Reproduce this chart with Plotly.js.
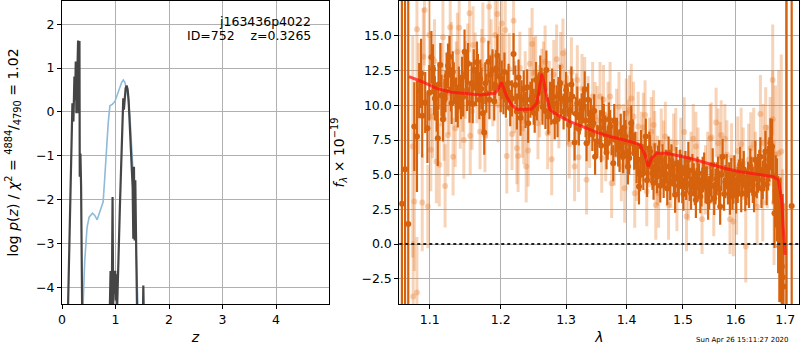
<!DOCTYPE html>
<html>
<head>
<meta charset="utf-8">
<script src="https://cdn.plot.ly/plotly-3.0.1.min.js"></script>
<style>html,body{margin:0;padding:0;background:#fff;}#chart{width:800px;height:350px;}</style>
</head>
<body>
<div id="chart"></div>
<script>
// ---- left panel: redshift probability ----
const pzFitZ = [0.11,0.1945,0.2132,0.232,0.245,0.257,0.2695,0.282,0.3008,0.3133,0.3265,0.332,0.3445,0.357,0.376,0.38,0.6,0.85,0.895,0.9075,0.92,0.932,0.945,0.957,0.97,0.982,0.995,1.007,1.02,1.032,1.082,1.1326,1.145,1.157,1.17,1.189,1.207,1.226,1.245,1.27,1.295,1.32,1.333,1.345,1.358,1.37,1.383,1.395,1.408,1.508,1.52,1.533];
const pzFitLog = [-4.6,0.2,-0.22,0.81,0.27,1.15,-0.03,1.04,1.63,-0.03,1.62,-1.48,-0.95,-1.71,-4.4,-5,-12,-5,-4.4,-3.63,-4.4,-4.08,-1.94,-4.4,-3.62,-4.15,-3.62,-4.3,-3.7,-4.4,-2.17,0.05,0.31,0.05,0.39,0.54,0.6,0.52,0.27,-0.41,-1.1,-1.71,-2.89,-1.25,-2.93,-1.56,-2.78,-4.4,-5,-5,-3.96,-5];
const pzPriorZ = [0.37,0.394,0.425,0.469,0.507,0.569,0.613,0.657,0.694,0.738,0.769,0.8,0.832,0.863,0.895,0.945,0.989,1.032,1.07,1.114,1.145,1.176,1.207,1.239,1.27,1.301,1.333,1.364,1.395,1.414,1.427,1.44];
const pzPriorLog = [-5.2,-4.38,-3.39,-2.63,-2.4,-2.31,-2.36,-2.46,-2.32,-2.17,-2.05,-1.48,-0.79,-0.26,0.14,0.18,0.24,0.39,0.54,0.67,0.73,0.67,0.52,0.27,-0.11,-0.72,-1.48,-2.4,-3.39,-4.08,-4.46,-5.2];
const zTicks = [0,1,2,3,4];
const logTicks = [-4,-3,-2,-1,0,1,2];

// ---- right panel: spectrum ----
const darkWave = [1.0632,1.0673,1.0715,1.0795,1.083,1.086,1.090,1.094,1.097,1.1023,1.106,1.107,1.111,1.112,1.116,1.118,1.120,1.123,1.125,1.127,1.129,1.130,1.133,1.136,1.140,1.143,1.146,1.148,1.150,1.153,1.155,1.158,1.161,1.164,1.167,1.169,1.172,1.174,1.176,1.179,1.182,1.185,1.188,1.192,1.195,1.198,
1.2015,1.204,1.2076,1.2116,1.214,1.219,1.2217,1.224,1.228,1.231,1.2343,1.237,1.241,1.2444,1.247,1.251,1.253,1.256,1.2596,1.263,1.266,1.269,1.272,1.2747,1.278,1.282,1.285,1.288,1.292,1.296,1.300,1.3025,1.3066,1.310,1.3136,1.318,1.322,1.325,1.330,1.333,1.337,1.340,1.344,1.347,
1.3552,1.359,1.3635,1.368,1.372,1.3773,1.381,1.3856,1.390,1.394,1.398,1.4024,1.406,1.408,1.413,1.4173,1.4214,1.425,1.429,1.4333,1.438,1.441,1.445,1.449,1.453,1.457,1.4607,1.465,1.469,1.4738,1.4768,1.481,1.4857,1.4905,1.4946,1.4988,1.503,1.506,1.510,1.515,1.520,1.524,1.527,
1.5323,1.5367,1.542,1.547,1.5513,1.5557,1.561,1.566,1.570,1.5747,1.580,1.585,1.589,1.5937,1.5975,1.604,1.6088,1.6135,1.619,1.6243,1.629,1.634,1.639,1.6446,1.6493,1.654,1.6595,1.665,1.6696,1.673,1.678,1.683,1.688,1.693,1.6966,1.703,1.7137,
1.0885,1.0995,1.1045,1.1095,1.1145,1.1215,1.1315,1.1385,1.1445,1.1515,1.1595,1.1655,1.1705,1.1775,1.1835,1.1905,1.1935,1.2000,1.2055,1.2095,1.2165,1.2265,1.2295,1.2395,1.2495,1.2545,1.2615,1.2675,1.2765,1.2805,1.2865,1.2905,1.2985,1.3045,1.3085,1.3155,1.3205,1.3275,1.3315,1.3355,1.3425,1.3455,1.3505,
1.3570,1.3615,1.3660,1.3700,1.3745,1.3790,1.3835,1.3880,1.3920,1.3960,1.4000,1.4045,1.4105,1.4150,1.4195,1.4235,1.4270,1.4315,1.4355,1.4395,1.4430,1.4470,1.4510,1.4550,1.4590,1.4630,1.4670,1.4715,1.4750,1.4790,1.4835,1.4880,1.4925,1.4965,1.5010,1.5045,1.5080,1.5125,1.5175,1.5220,1.5255,
1.5300,1.5345,1.5395,1.5445,1.5490,1.5535,1.5585,1.5635,1.5680,1.5725,1.5775,1.5825,1.5875,1.5915,1.5955,1.6010,1.6065,1.6110,1.6160,1.6215,1.6265,1.6315,1.6365,1.6420,1.6470,1.6515,1.6570,1.6620,1.6675,1.6755,1.6805,1.6855,1.6905,1.6950];
const darkFlux = [2.9,5.4,1.45,8.47,7.75,11.06,9.24,10.2,8.35,13.46,11.1,10.5,7.63,11.5,10.7,9.0,10.4,12.1,12.85,13.5,11.15,10.15,11.6,10.4,11.3,10.5,10.6,13.87,12.3,13.0,10.15,11.6,12.55,11.35,12.2,10.4,11.2,9.43,8.04,10.87,13.15,12.2,12.55,11.47,13.6,12.07,
11.83,10.75,10.4,11.6,9.8,13.7,11.47,9.55,10.63,10.4,11.2,9.67,8.7,10.4,10.63,9.43,11.83,10.87,12.2,9.9,11.1,12.55,9.19,10.4,11.35,8.83,10.15,10.75,10.5,9.55,11.1,10.4,9.67,10.63,7.32,10.15,9.19,9.67,11.16,7.27,8.47,9.3,8.7,6.3,
8.35,9.43,7.99,7.27,8.47,5.83,7.5,6.79,8.1,6.3,7.75,5.59,7.27,8.7,6.55,5.59,4.15,7.03,5.1,7.75,5.83,6.67,5.1,6.07,4.87,6.3,5.35,4.52,5.59,6.55,4.38,5.35,3.55,4.87,5.59,4.15,5.1,4.38,6.07,3.67,4.63,3.18,5.1,
3.42,5.1,4.15,3.06,4.63,5.71,4.15,5.1,2.7,6.3,4.5,4.15,3.42,3.67,5.1,4.26,5.71,4.87,3.67,4.63,5.59,4.26,6.07,5.1,6.3,4.63,6.67,5.47,7.27,7.03,2.22,3.18,-0.17,-1.61,-3.05,-6,2.75,
12.3,10.9,12.6,9.8,12.9,11.0,12.4,9.9,12.0,11.1,10.1,13.1,11.9,11.6,10.4,10.3,12.6,10.9,12.4,11.1,10.5,12.0,9.1,11.3,9.9,10.2,11.4,9.6,9.9,10.6,9.0,11.6,10.2,8.6,11.5,9.4,8.3,9.9,8.9,10.4,7.9,9.6,7.4,
7.1,8.9,6.6,9.0,7.6,8.9,7.9,6.4,7.3,8.4,6.6,6.2,7.8,6.9,6.1,5.0,6.0,6.4,4.6,6.9,5.6,4.4,5.5,5.9,4.2,6.0,5.2,4.0,5.6,6.0,4.6,5.8,4.2,5.3,3.6,5.5,4.9,4.3,5.3,4.0,4.3,
4.6,3.9,5.4,4.4,3.7,4.2,3.3,4.7,4.0,5.0,3.6,5.3,4.7,5.0,4.1,3.5,4.8,3.6,5.4,4.1,3.9,5.0,3.6,4.7,5.4,4.0,5.2,4.3,6.1,4.9,3.8,1.4,0.3,-2.4];
const darkErr = [40,40,40,3.2,4.0,2.0,3.0,2.2,2.5,1.9,1.8,1.6,2.0,1.6,1.5,1.6,1.5,1.7,1.6,1.5,1.6,1.5,1.5,1.6,1.5,1.5,1.4,1.6,1.5,1.5,1.4,1.5,1.5,1.4,1.5,1.4,1.5,1.5,1.6,1.4,1.5,1.4,1.5,1.4,1.5,1.4,
1.4,1.4,1.3,1.4,1.3,1.5,1.4,1.3,1.3,1.4,1.3,1.3,1.4,1.3,1.3,1.4,1.3,1.3,1.4,1.3,1.3,1.4,1.3,1.3,1.3,1.3,1.3,1.3,1.3,1.3,1.3,1.2,1.3,1.3,1.3,1.2,1.3,1.2,1.3,1.3,1.2,1.2,1.3,1.3,
1.3,1.2,1.3,1.2,1.2,1.3,1.2,1.2,1.3,1.2,1.2,1.3,1.2,1.3,1.2,1.2,1.3,1.2,1.2,1.3,1.2,1.2,1.2,1.2,1.2,1.2,1.2,1.2,1.2,1.2,1.2,1.2,1.3,1.2,1.2,1.2,1.2,1.2,1.3,1.2,1.2,1.3,1.2,
1.2,1.2,1.2,1.3,1.2,1.2,1.3,1.2,1.3,1.3,1.2,1.3,1.3,1.2,1.3,1.3,1.3,1.3,1.3,1.3,1.3,1.3,1.4,1.4,1.4,1.4,1.5,1.6,1.8,2.0,2.5,3.0,4.0,5.0,6.0,40,40,
2.5,2.0,1.8,1.7,1.6,1.5,1.5,1.5,1.5,1.5,1.4,1.5,1.4,1.5,1.4,1.4,1.4,1.4,1.4,1.4,1.3,1.3,1.3,1.3,1.3,1.3,1.3,1.3,1.3,1.3,1.3,1.3,1.3,1.2,1.3,1.2,1.2,1.2,1.2,1.2,1.2,1.2,1.2,
1.2,1.2,1.2,1.2,1.2,1.2,1.2,1.2,1.2,1.2,1.2,1.2,1.2,1.2,1.2,1.2,1.2,1.2,1.2,1.2,1.2,1.2,1.2,1.2,1.2,1.2,1.2,1.2,1.2,1.2,1.2,1.2,1.2,1.2,1.2,1.2,1.2,1.2,1.2,1.2,1.2,
1.2,1.2,1.2,1.2,1.2,1.2,1.2,1.2,1.2,1.2,1.2,1.2,1.2,1.2,1.2,1.3,1.3,1.3,1.3,1.3,1.3,1.3,1.3,1.4,1.4,1.4,1.4,1.5,1.6,2.0,2.6,3.5,4.5,6.0];

const lightWave = [1.0775,1.0795,1.083,1.090,1.093,1.0975,1.0995,1.078,1.083,1.104,1.109,1.113,1.118,1.121,1.125,1.128,1.132,1.135,1.138,1.142,1.147,1.149,1.155,1.156,1.160,1.163,1.170,1.174,1.177,1.183,1.186,1.192,1.195,1.196,
1.2015,1.2066,1.209,1.2167,1.219,1.224,1.2258,1.232,1.2343,1.238,1.241,1.247,1.2495,1.256,1.262,1.267,1.271,1.2773,1.285,1.2914,1.295,1.3025,1.305,1.3136,1.318,1.320,1.330,1.333,1.338,1.343,1.347,
1.3552,1.361,1.3646,1.372,1.3746,1.383,1.391,1.3967,1.3994,1.405,1.408,1.414,1.420,1.426,1.432,1.435,1.443,1.447,1.451,1.456,1.4607,1.468,1.4738,1.483,1.489,1.5024,1.5066,1.515,1.524,
1.5355,1.542,1.553,1.5577,1.5622,1.566,1.572,1.583,1.589,1.5955,1.602,1.6108,1.620,1.6257,1.6358,1.6426,1.6493,1.654,1.663,1.6743,1.6743,1.680,1.6865,1.692,1.6946,
1.0855,1.0915,1.1015,1.1065,1.1155,1.1195,1.1265,1.1295,1.1365,1.1405,1.1455,1.1525,1.1585,1.1655,1.1725,1.1795,1.1885,1.1985,1.2035,1.2125,1.2205,1.2285,1.2365,1.2435,1.2525,1.2585,1.2645,1.2735,1.2805,1.2885,1.2985,1.3085,1.3165,1.3255,
1.3355,1.3505,1.3580,1.3685,1.3790,1.3870,1.3945,1.4025,1.4120,1.4175,1.4290,1.4400,1.4490,1.4540,1.4650,1.4780,1.4870,1.4960,1.5100,1.5190,1.5280,1.5460,1.5510,1.5700,1.5790,1.5920,1.6040,1.6150,1.6300,1.6390,1.6550,1.6600,1.6690,1.6770];
const lightFlux = [7.03,3.06,15.48,2.99,16.87,2.7,15.07,-3.78,-3.49,9.19,5.95,5.71,14.9,4.19,7.87,15.62,6.3,8.35,13.87,9.67,7.5,11.83,16.63,7.8,14.35,12.55,8.1,14.71,7.87,17.1,13.5,15.07,16.58,10.03,
15.9,15.43,6.35,7.94,16.1,6.91,6.35,8.83,8.35,5.59,6.74,14.42,12.3,8.71,11.47,13.15,7.99,6.11,13.32,12.79,13.75,9.67,7.22,5.59,11.83,6.26,10.99,4.63,7.99,10.63,9.19,
10.63,10.4,7.03,10.63,4.38,8.7,5.59,4.03,9.43,9.67,10.5,3.67,8.47,7.03,9.3,3.79,8.1,8.59,2.82,3.67,7.27,7.75,2.82,6.91,3.42,8.08,1.98,5.59,7.03,
1.79,4.63,7.7,3.06,8.76,7.27,7.87,6.43,1.79,1.62,3.18,7.22,-0.17,6.07,7.22,2.7,9.38,2.99,5.59,11.83,9.0,6.43,6.55,6.67,-1.61,
10.5,13.5,6.8,13.2,11.5,9.0,10.9,13.2,11.8,15.6,10.9,13.1,9.6,11.4,12.8,10.3,11.2,13.0,12.5,12.6,10.6,12.7,11.3,13.0,12.4,10.3,12.0,10.6,12.2,9.4,11.6,12.4,9.8,11.2,
9.6,8.9,6.2,9.2,6.7,9.9,7.6,7.9,9.2,5.6,8.4,6.6,7.1,5.3,6.4,5.1,7.3,6.6,4.2,7.6,5.9,5.6,7.6,6.3,7.6,6.2,6.7,5.8,6.9,5.4,7.3,8.4,7.4,3.0];
const lightErr = [8,5,4,3.5,4,3,3.5,4,4,3,3,3,3,3,3,3,2.8,2.8,2.8,2.8,2.8,2.8,2.8,2.8,2.8,2.7,2.7,2.7,2.7,2.7,2.7,2.7,2.7,2.7,
2.7,2.7,2.7,2.6,2.6,2.6,2.6,2.6,2.6,2.6,2.6,2.6,2.6,2.6,2.6,2.6,2.6,2.6,2.5,2.5,2.5,2.5,2.5,2.5,2.5,2.5,2.5,2.5,2.5,2.5,2.5,
2.5,2.5,2.5,2.5,2.5,2.5,2.5,2.5,2.5,2.5,2.5,2.5,2.5,2.5,2.5,2.5,2.5,2.5,2.5,2.5,2.5,2.5,2.5,2.5,2.5,2.5,2.5,2.5,2.5,
2.5,2.5,2.5,2.5,2.5,2.5,2.5,2.5,2.5,2.5,2.5,2.6,2.6,2.6,2.6,2.7,2.8,2.8,3.0,4.0,3.5,5.0,6.0,7.0,7.0,
4,3.5,3,3,3,3,3,2.8,2.8,2.8,2.8,2.8,2.8,2.7,2.7,2.7,2.7,2.7,2.7,2.6,2.6,2.6,2.6,2.6,2.6,2.6,2.6,2.6,2.5,2.5,2.5,2.5,2.5,2.5,
2.5,2.5,2.5,2.5,2.5,2.5,2.5,2.5,2.5,2.5,2.5,2.5,2.5,2.5,2.5,2.5,2.5,2.5,2.5,2.5,2.5,2.5,2.5,2.5,2.5,2.5,2.5,2.6,2.6,2.7,2.8,2.9,3.2,4.5];

const modelWave = [1.0725,1.09,1.11,1.13,1.15,1.17,1.1916,1.1965,1.2013,1.2087,1.2161,1.2236,1.2459,1.2541,1.2585,1.2618,1.2655,1.2695,1.2747,1.2905,1.3063,1.33,1.35,1.3719,1.406,1.4233,1.4318,1.4378,1.4435,1.4527,1.4706,1.5132,1.55,1.58,1.6086,1.64,1.6755,1.6859,1.6929,1.6958,1.6985,1.70];
const modelFlux = [12.07,11.7,11.2,10.95,10.85,10.75,10.87,11.2,11.64,10.63,10.03,9.72,9.72,10.15,11.3,12.26,11.6,10.63,9.67,9.19,8.83,8.4,8.05,7.75,7.39,7.15,6.43,5.58,6.19,6.55,6.55,6.19,5.75,5.45,5.22,5.05,4.86,4.63,3.18,1.26,-0.66,-0.78];
const waveTicks = [1.1,1.2,1.3,1.4,1.5,1.6,1.7];
const fluxTicks = [-2.5,0,2.5,5,7.5,10,12.5,15];

const orange = 'rgb(214,98,14)';
const orangeLight = 'rgba(232,120,40,0.33)';
const font = 'DejaVu Sans, sans-serif';

const traces = [
  {x: pzPriorZ, y: pzPriorLog, type:'scatter', mode:'lines', xaxis:'x', yaxis:'y',
   line:{color:'#8fbbd9', width:1.6}, hoverinfo:'skip'},
  {x: pzFitZ, y: pzFitLog, type:'scatter', mode:'lines', xaxis:'x', yaxis:'y',
   line:{color:'#454545', width:2.2}, hoverinfo:'skip'},
  {x: lightWave, y: lightFlux, type:'scatter', mode:'markers', xaxis:'x2', yaxis:'y2',
   marker:{color:orangeLight, size:6},
   error_y:{type:'data', array:lightErr, visible:true, color:orangeLight, thickness:3, width:0}},
  {x: darkWave, y: darkFlux, type:'scatter', mode:'markers', xaxis:'x2', yaxis:'y2',
   marker:{color:orange, size:6},
   error_y:{type:'data', array:darkErr, visible:true, color:orange, thickness:2.2, width:0}},
  {x: modelWave, y: modelFlux, type:'scatter', mode:'lines', xaxis:'x2', yaxis:'y2',
   line:{color:'rgba(255,20,20,0.75)', width:3}, hoverinfo:'skip'}
];

const axBase = {showgrid:true, gridcolor:'#b0b0b0', gridwidth:1, showline:true, linecolor:'#000', linewidth:1,
  mirror:true, ticks:'outside', ticklen:4, tickcolor:'#000', zeroline:false,
  tickfont:{family:font, size:12.5, color:'#000'}};

const layout = {
  width:800, height:350, margin:{l:0, r:0, t:1, b:46}, paper_bgcolor:'#fff', plot_bgcolor:'#fff',
  showlegend:false, font:{family:font, color:'#000'},
  xaxis: Object.assign({}, axBase, {domain:[0.0775,0.41125], range:[0,4.99], tickvals:zTicks, anchor:'y',
    title:{text:'<i>z</i>', font:{family:font, size:14}, standoff:6}}),
  yaxis: Object.assign({}, axBase, {domain:[0,1], range:[-4.38,2.53], tickvals:logTicks, anchor:'x',
    title:{text:'log <i>p</i>(<i>z</i>) / <i>χ</i><sup>2</sup> = <sup>4884</sup>/<sub>4790</sub> = 1.02', font:{family:font, size:14}, standoff:14}}),
  xaxis2: Object.assign({}, axBase, {domain:[0.4991,0.9991], type:'log', range:[Math.log10(1.0598), Math.log10(1.7297)],
    tickvals:waveTicks, ticktext:waveTicks.map(v=>v.toFixed(1)), anchor:'y2',
    title:{text:'<i>λ</i>', font:{family:font, size:14}, standoff:6}}),
  yaxis2: Object.assign({}, axBase, {domain:[0,1], range:[-4.32,17.52], tickvals:fluxTicks, tickformat:'.1f', anchor:'x2',
    title:{text:'<i>f</i><sub><i>λ</i></sub> × 10<sup>−19</sup>', font:{family:font, size:14}, standoff:13}}),
  shapes:[{type:'line', xref:'x2 domain', x0:0, x1:1, yref:'y2', y0:0, y1:0,
    line:{color:'#222', width:2, dash:'dot'}}],
  annotations:[
    {xref:'paper', yref:'paper', x:313/800, y:1-20/303, xanchor:'right', yanchor:'middle', showarrow:false,
     text:'j163436p4022', font:{family:font, size:12.5}},
    {xref:'paper', yref:'paper', x:313/800, y:1-34/303, xanchor:'right', yanchor:'middle', showarrow:false,
     text:'ID=752\u00a0\u00a0\u00a0\u00a0z=0.3265', font:{family:font, size:12.5}},
    {xref:'paper', yref:'paper', x:742/800, y:-36/303, xanchor:'center', yanchor:'middle', showarrow:false,
     text:'Sun Apr 26 15:11:27 2020', font:{family:font, size:7}}
  ]
};

Plotly.newPlot('chart', traces, layout, {displayModeBar:false, staticPlot:true});
</script>
</body>
</html>
